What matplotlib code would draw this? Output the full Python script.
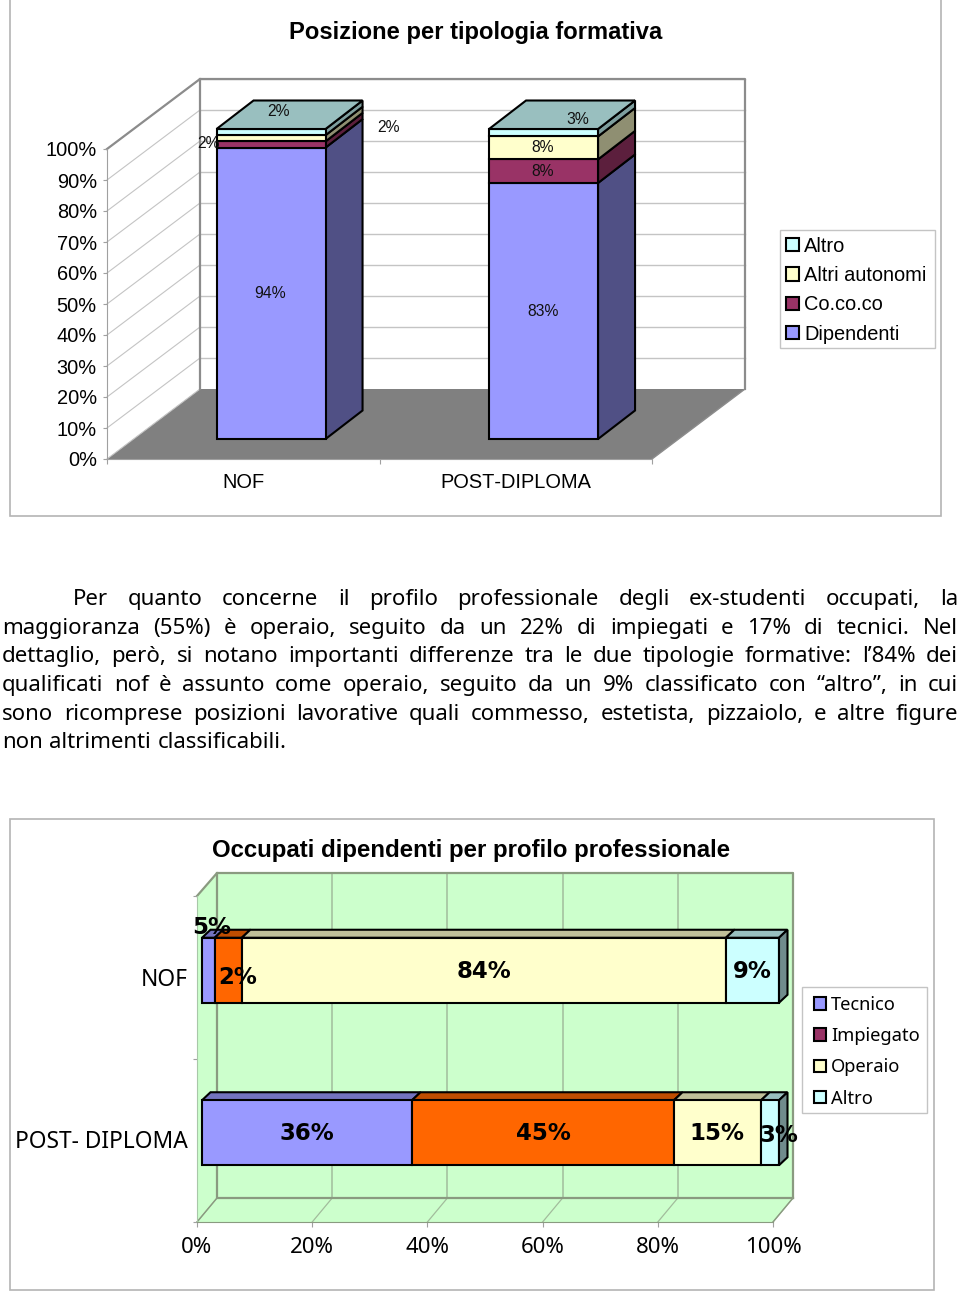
import matplotlib
matplotlib.use('Agg')
import matplotlib.pyplot as plt
from matplotlib.patches import Polygon, Patch, Rectangle
from matplotlib.transforms import IdentityTransform
from matplotlib.colors import to_rgb

plt.rcParams['text.kerning_factor'] = 6

W, H = 960, 1291

# top chart
cat_top = ['NOF', 'POST-DIPLOMA']
ser_top = ['Dipendenti', 'Co.co.co', 'Altri autonomi', 'Altro']
dipendenti = [94, 82.6]
cococo = [2, 7.6]
autonomi = [2, 7.4]
altro_top = [2, 2.4]
pct_ticks = list(range(0, 101, 10))

# bottom chart
cat_low = ['NOF', 'POST- DIPLOMA']
ser_low = ['Tecnico', 'Impiegato', 'Operaio', 'Altro']
tecnico = [2.2, 36.4]
impiegato = [4.7, 45.4]
operaio = [83.9, 15.1]
altro_low = [9.2, 3.1]
low_ticks = [0, 20, 40, 60, 80, 100]

paragraph = [
    'Per quanto concerne il profilo professionale degli ex-studenti occupati, la',
    'maggioranza (55%) è operaio, seguito da un 22% di impiegati e 17% di tecnici. Nel',
    'dettaglio, però, si notano importanti differenze tra le due tipologie formative: l’84% dei',
    'qualificati nof è assunto come operaio, seguito da un 9% classificato con “altro”, in cui',
    'sono ricomprese posizioni lavorative quali commesso, estetista, pizzaiolo, e altre figure',
    'non altrimenti classificabili.',
]

BLUE, MAROON, YELLOW, CYAN, ORANGE = '#9999FF', '#993366', '#FFFFCC', '#CCFFFF', '#FF6600'
ARIAL = 'Liberation Sans'
TAHOMA = 'Noto Sans'


def shade(c, f):
    return tuple(v * f for v in to_rgb(c))


def axes_at(x0, y0, x1, y1, z):
    a = fig.add_axes([x0 / W, 1 - y1 / H, (x1 - x0) / W, (y1 - y0) / H], zorder=z)
    a.patch.set_alpha(0)
    return a


def face(ax, corners, depth_pts, color, lw):
    # corners in data coords, depth_pts says which of them get pushed back
    pts = ax.transData.transform(corners)
    pts = [(p[0] + d[0], p[1] + d[1]) for p, d in zip(pts, depth_pts)]
    ax.add_patch(Polygon(pts, closed=True, fc=color, ec='black', lw=lw,
                         transform=IdentityTransform(), clip_on=False, joinstyle='miter'))


fig = plt.figure(figsize=(W / 100, H / 100), dpi=100)

back = axes_at(0, 0, W, H, 0)
back.set_xlim(0, W)
back.set_ylim(H, 0)
back.axis('off')
top = axes_at(0, 0, W, H, 10)
top.set_xlim(0, W)
top.set_ylim(H, 0)
top.axis('off')

# frames
back.add_patch(Rectangle((10, -2), 931, 518, fc='white', ec='#b4b4b4', lw=1.2))
back.add_patch(Rectangle((10, 819), 924, 471, fc='white', ec='#b4b4b4', lw=1.2))

# ---- top chart walls
back.add_patch(Polygon([(107, 459), (200, 389), (745, 389), (652, 459)], fc='#808080', ec='none'))
for k in pct_ticks:
    y = 389 - 3.1 * k
    if k > 0:
        back.plot([200, 745], [y, y], color='#c4c4c4', lw=1)
    back.plot([107, 200], [y + 70, y], color='#c4c4c4', lw=0.8)
wall = '#8c8c8c'
back.plot([107, 200, 745, 745], [149, 79, 79, 389], color=wall, lw=1.6)
back.plot([200, 200], [79, 389], color=wall, lw=1.6)
back.plot([745, 652], [389, 459], color=wall, lw=1)

front = axes_at(107, 149, 652, 459, 1)
front.set_xlim(0, 2)
front.set_ylim(0, 100)
front.set_yticks(pct_ticks)
front.set_yticklabels([f'{v}%' for v in pct_ticks], fontfamily=ARIAL, fontsize=14.4)
front.set_xticks([0, 1, 2])
front.set_xticklabels([])
front.set_xticks([0.5, 1.5], minor=True)
front.set_xticklabels(cat_top, minor=True, fontfamily=ARIAL, fontsize=14.4)
front.tick_params(axis='x', which='minor', length=0, pad=10)
front.tick_params(axis='x', which='major', length=3.5, color='#a0a0a0')
front.tick_params(axis='y', length=3, color='#a0a0a0', pad=4.3)
for s in ['top', 'right']:
    front.spines[s].set_visible(False)
for s in ['left', 'bottom']:
    front.spines[s].set_color('#a0a0a0')

# ---- top chart bars
bars = axes_at(134.8, 129, 679.8, 439, 2)
bars.set_xlim(0, 2)
bars.set_ylim(0, 100)
bars.axis('off')
fig.canvas.draw()
d1 = (37, 28.5)
bw = 0.4
x_pos = [0.5, 1.5]
bottoms = [0, 0]
handles_top = []
for vals, col, side in zip([dipendenti, cococo, autonomi, altro_top],
                           [BLUE, MAROON, YELLOW, CYAN], [0.52, 0.6, 0.56, 0.62]):
    for i, x in enumerate(x_pos):
        x1 = x + bw / 2
        face(bars, [(x1, bottoms[i]), (x1, bottoms[i] + vals[i]), (x1, bottoms[i] + vals[i]), (x1, bottoms[i])],
             [(0, 0), (0, 0), d1, d1], shade(col, side), 1.5)
    handles_top.append(bars.bar(x_pos, vals, bw, bottom=bottoms, color=col, edgecolor='black', lw=1.5, clip_on=False))
    bottoms = [b + v for b, v in zip(bottoms, vals)]
for i, x in enumerate(x_pos):
    x0, x1 = x - bw / 2, x + bw / 2
    face(bars, [(x0, bottoms[i]), (x1, bottoms[i]), (x1, bottoms[i]), (x0, bottoms[i])],
         [(0, 0), (0, 0), d1, d1], shade(CYAN, 0.75), 1.5)

top.text(475.5, 32.5, 'Posizione per tipologia formativa', fontfamily=ARIAL, fontweight='bold',
         fontsize=17.15, ha='center', va='center')
for tx, ty, s in [(278, 112, '2%'), (208, 144, '2%'), (388, 127, '2%'), (270, 293, '94%'),
                  (578, 120, '3%'), (543, 148, '8%'), (543, 171, '8%'), (543, 311, '83%')]:
    top.text(tx, ty, s, fontfamily=ARIAL, fontsize=11.3, ha='center', va='center', color='#111111')

top.add_patch(Rectangle((780, 230), 155, 118, fc='white', ec='#c4c4c4', lw=1))
fig.legend(handles_top[::-1], ser_top[::-1], loc='upper left', bbox_to_anchor=(786 / W, 1 - 236.5 / H),
           frameon=False, borderaxespad=0, borderpad=0,
           prop={'family': ARIAL, 'size': 14.4}, handlelength=0.65, handleheight=0.65,
           handletextpad=0.25, labelspacing=0.52).set_zorder(20)

# ---- paragraph, justified word by word
renderer = fig.canvas.get_renderer()
base = [605, 634, 662, 691, 720, 748]
for n, line in enumerate(paragraph):
    left = 73 if n == 0 else 2
    words = line.split(' ')
    texts = [top.text(0, base[n], w, fontfamily=TAHOMA, fontsize=16, va='baseline') for w in words]
    widths = [t.get_window_extent(renderer).width for t in texts]
    if n < len(paragraph) - 1:
        gap = (958 - left - sum(widths)) / (len(words) - 1)
    else:
        gap = 6.5
    x = left
    for t, wd in zip(texts, widths):
        t.set_x(x)
        x += wd + gap

# ---- bottom chart walls
green = '#CCFFCC'
back.add_patch(Polygon([(197, 896), (217, 873), (793, 873), (793, 1198), (773, 1222), (197, 1222)], fc=green, ec='none'))
line_g = '#a2bc9c'
for v in low_ticks:
    x = 217 + 5.76 * v
    back.plot([x, x], [873, 1198], color=line_g, lw=1.1)
    back.plot([x - 20, x], [1222, 1198], color=line_g, lw=0.9)
edge_g = '#8a9a80'
back.plot([197, 217, 793, 793], [896, 873, 873, 1198], color=edge_g, lw=1.6)
back.plot([217, 217, 793], [873, 1198, 1198], color=edge_g, lw=1.6)
back.plot([197, 217], [1222, 1198], color=edge_g, lw=1)
back.plot([793, 773], [1198, 1222], color=edge_g, lw=1)

front2 = axes_at(197, 896, 773, 1222, 1)
front2.set_xlim(0, 100)
front2.set_ylim(2, 0)
front2.set_xticks(low_ticks)
front2.set_xticklabels([f'{v}%' for v in low_ticks], fontfamily=TAHOMA, fontsize=16)
front2.tick_params(axis='x', length=3.5, color='#a0a0a0', pad=7.5)
front2.set_yticks([0, 1, 2])
front2.set_yticklabels([])
front2.set_yticks([0.5, 1.49], minor=True)
front2.set_yticklabels(cat_low, minor=True, fontfamily=TAHOMA, fontsize=16.4)
front2.tick_params(axis='y', which='minor', length=0, pad=7)
front2.tick_params(axis='y', which='major', length=3, color='#a0a0a0')
for s in ['top', 'right']:
    front2.spines[s].set_visible(False)
front2.spines['left'].set_color('#a8c8a8')
front2.spines['bottom'].set_color(edge_g)

# ---- bottom chart bars
bars2 = axes_at(202, 889, 779, 1214, 2)
bars2.set_xlim(0, 100)
bars2.set_ylim(2, 0)
bars2.axis('off')
fig.canvas.draw()
d2 = (8.5, 8)
bh = 0.4
y_pos = [0.5, 1.5]
lefts = [0, 0]
for vals, col in zip([tecnico, impiegato, operaio, altro_low], [BLUE, ORANGE, YELLOW, CYAN]):
    for i, y in enumerate(y_pos):
        y0 = y - bh / 2
        face(bars2, [(lefts[i], y0), (lefts[i] + vals[i], y0), (lefts[i] + vals[i], y0), (lefts[i], y0)],
             [(0, 0), (0, 0), d2, d2], shade(col, 0.75), 1.5)
    bars2.barh(y_pos, vals, bh, left=lefts, color=col, edgecolor='black', lw=1.5, clip_on=False)
    lefts = [a + v for a, v in zip(lefts, vals)]
for i, y in enumerate(y_pos):
    y0, y1 = y - bh / 2, y + bh / 2
    face(bars2, [(lefts[i], y1), (lefts[i], y0), (lefts[i], y0), (lefts[i], y1)],
         [(0, 0), (0, 0), d2, d2], shade(CYAN, 0.55), 1.5)

top.text(471.5, 850.5, 'Occupati dipendenti per profilo professionale', fontfamily=ARIAL, fontweight='bold',
         fontsize=17.25, ha='center', va='center')
for tx, ty, s in [(212, 927, '5%'), (238, 977, '2%'), (484, 971, '84%'), (752, 971, '9%'),
                  (307, 1134, '36%'), (543, 1134, '45%'), (717, 1134, '15%'), (779, 1135, '3%')]:
    top.text(tx, ty, s, fontfamily='DejaVu Sans', fontweight='bold', fontsize=16.5, ha='center', va='center')

top.add_patch(Rectangle((802, 987), 125, 126, fc='white', ec='#c4c4c4', lw=1))
low_handles = [Patch(fc=c, ec='black', lw=1.5) for c in [BLUE, MAROON, YELLOW, CYAN]]
fig.legend(low_handles, ser_low, loc='upper left', bbox_to_anchor=(814 / W, 1 - 996 / H),
           frameon=False, borderaxespad=0, borderpad=0,
           prop={'family': TAHOMA, 'size': 13.2}, handlelength=0.68, handleheight=0.68,
           handletextpad=0.25, labelspacing=0.72).set_zorder(20)

fig.savefig('out.png', dpi=100)
